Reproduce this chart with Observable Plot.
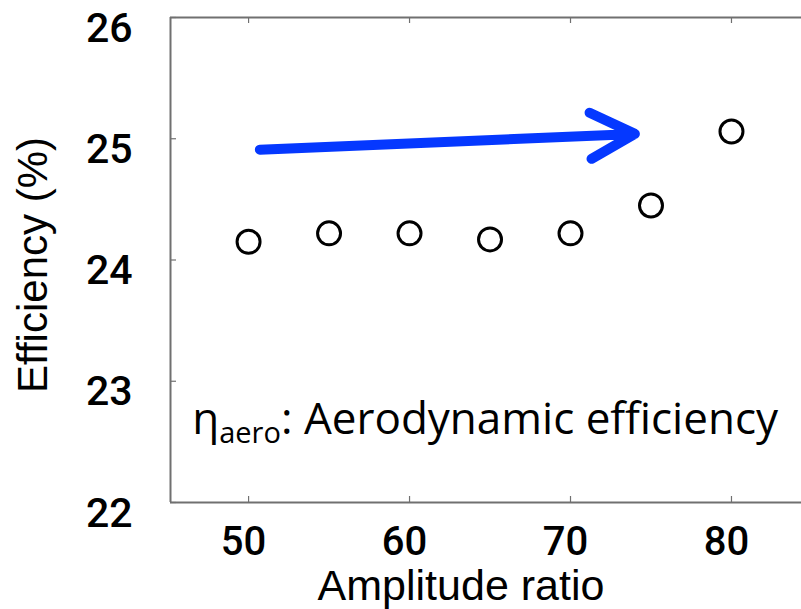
<!DOCTYPE html>
<html><head><meta charset="utf-8">
<script src="https://cdn.jsdelivr.net/npm/d3@7"></script>
<script src="https://cdn.jsdelivr.net/npm/@observablehq/plot@0.6"></script>
<style>body{margin:0;background:#fff;overflow:hidden}</style>
</head><body><div id="chart"></div>
<script>
// Data
const amplitudeRatio = [50, 55, 60, 65, 70, 75, 80];
const efficiency = [24.15, 24.22, 24.22, 24.17, 24.22, 24.45, 25.06];
const xTicks = [50, 60, 70, 80];
const yTicks = [22, 23, 24, 25, 26];
const xDomain = [45.15, 84.35];
const yDomain = [22, 26];
const arrowX = [50.7, 74.0];
const arrowY = [24.91, 25.04];
const noteX = [46.5];
const noteY = [22.68];
const xLabel = "Amplitude ratio";
const yLabel = "Efficiency (%)";

const points = amplitudeRatio.map((x, i) => ({x, y: efficiency[i]}));
const arrows = [{x1: arrowX[0], y1: arrowY[0], x2: arrowX[1], y2: arrowY[1]}];
const notes = [{x: noteX[0], y: noteY[0], t: "η"}];

const W = 801, H = 609, mL = 170, mR = 0, mT = 17, mB = 107;
const plotW = W - mL - mR, plotH = H - mT - mB;
const frameColor = "#707070";
const sans = "'Liberation Sans', Arial, Helvetica, sans-serif";
const tickFont = "Roboto, 'Liberation Sans', Arial, sans-serif";

const chart = Plot.plot({
  width: W, height: H,
  marginLeft: mL, marginRight: mR, marginTop: mT, marginBottom: mB,
  x: {domain: xDomain, axis: null},
  y: {domain: yDomain, axis: null},
  style: {fontFamily: sans, background: "#fff", color: "#000"},
  marks: [
    // frame: left, top, bottom
    Plot.ruleX([xDomain[0]], {stroke: frameColor, strokeWidth: 2}),
    Plot.ruleY([yDomain[0]], {stroke: frameColor, strokeWidth: 2}),
    Plot.ruleY([yDomain[1]], {stroke: frameColor, strokeWidth: 2}),
    // inward ticks
    Plot.tickX(xTicks, {x: d => d, stroke: frameColor, strokeWidth: 1.2, insetTop: plotH - 6}),
    Plot.tickX(xTicks, {x: d => d, stroke: frameColor, strokeWidth: 1.2, insetBottom: plotH - 6}),
    Plot.tickY(yTicks, {y: d => d, stroke: frameColor, strokeWidth: 1.2, insetRight: plotW - 6}),
    // tick labels
    Plot.text(xTicks, {x: d => d, text: d => String(d), frameAnchor: "bottom", lineAnchor: "top",
      dy: 24, dx: -5, fontSize: 40, fontWeight: 500, fontFamily: tickFont, fill: "#000"}),
    Plot.text(yTicks, {y: d => d, text: d => String(d), frameAnchor: "left", textAnchor: "end",
      dx: -38, dy: 11, fontSize: 41, fontWeight: 500, fontFamily: tickFont, fill: "#000"}),
    // axis titles
    Plot.text([xLabel], {text: d => d, frameAnchor: "bottom", textAnchor: "middle", lineAnchor: "middle",
      dx: -25, dy: 84, fontSize: 43, fill: "#000"}),
    Plot.text([yLabel], {text: d => d, frameAnchor: "left", textAnchor: "middle", lineAnchor: "middle", rotate: -90,
      dx: -137, dy: 5, fontSize: 42, fill: "#000"}),
    // arrow
    Plot.arrow(arrows, {x1: "x1", y1: "y1", x2: "x2", y2: "y2", stroke: "#0538ff",
      strokeWidth: 10, headLength: 7.5, headAngle: 55}),
    // data points
    Plot.dot(points, {x: "x", y: "y", r: 11.5, stroke: "#000", strokeWidth: 3, fill: "none"}),
    // annotation
    Plot.text(notes, {x: "x", y: "y", text: "t", textAnchor: "start", lineAnchor: "middle",
      fontSize: 44, fontFamily: "'Open Sans', 'DejaVu Sans', sans-serif", fill: "#000"})
  ]
});

// subscript formatting of the annotation
d3.select(chart).selectAll("text").each(function() {
  if (this.textContent === "η") {
    const t = d3.select(this);
    t.text(null);
    t.append("tspan").text("η");
    t.append("tspan").attr("font-size", 29).attr("dy", 9).text("aero");
    t.append("tspan").attr("dy", -9).text(": Aerodynamic efficiency");
  }
});

document.getElementById("chart").appendChild(chart);
</script>
</body></html>
